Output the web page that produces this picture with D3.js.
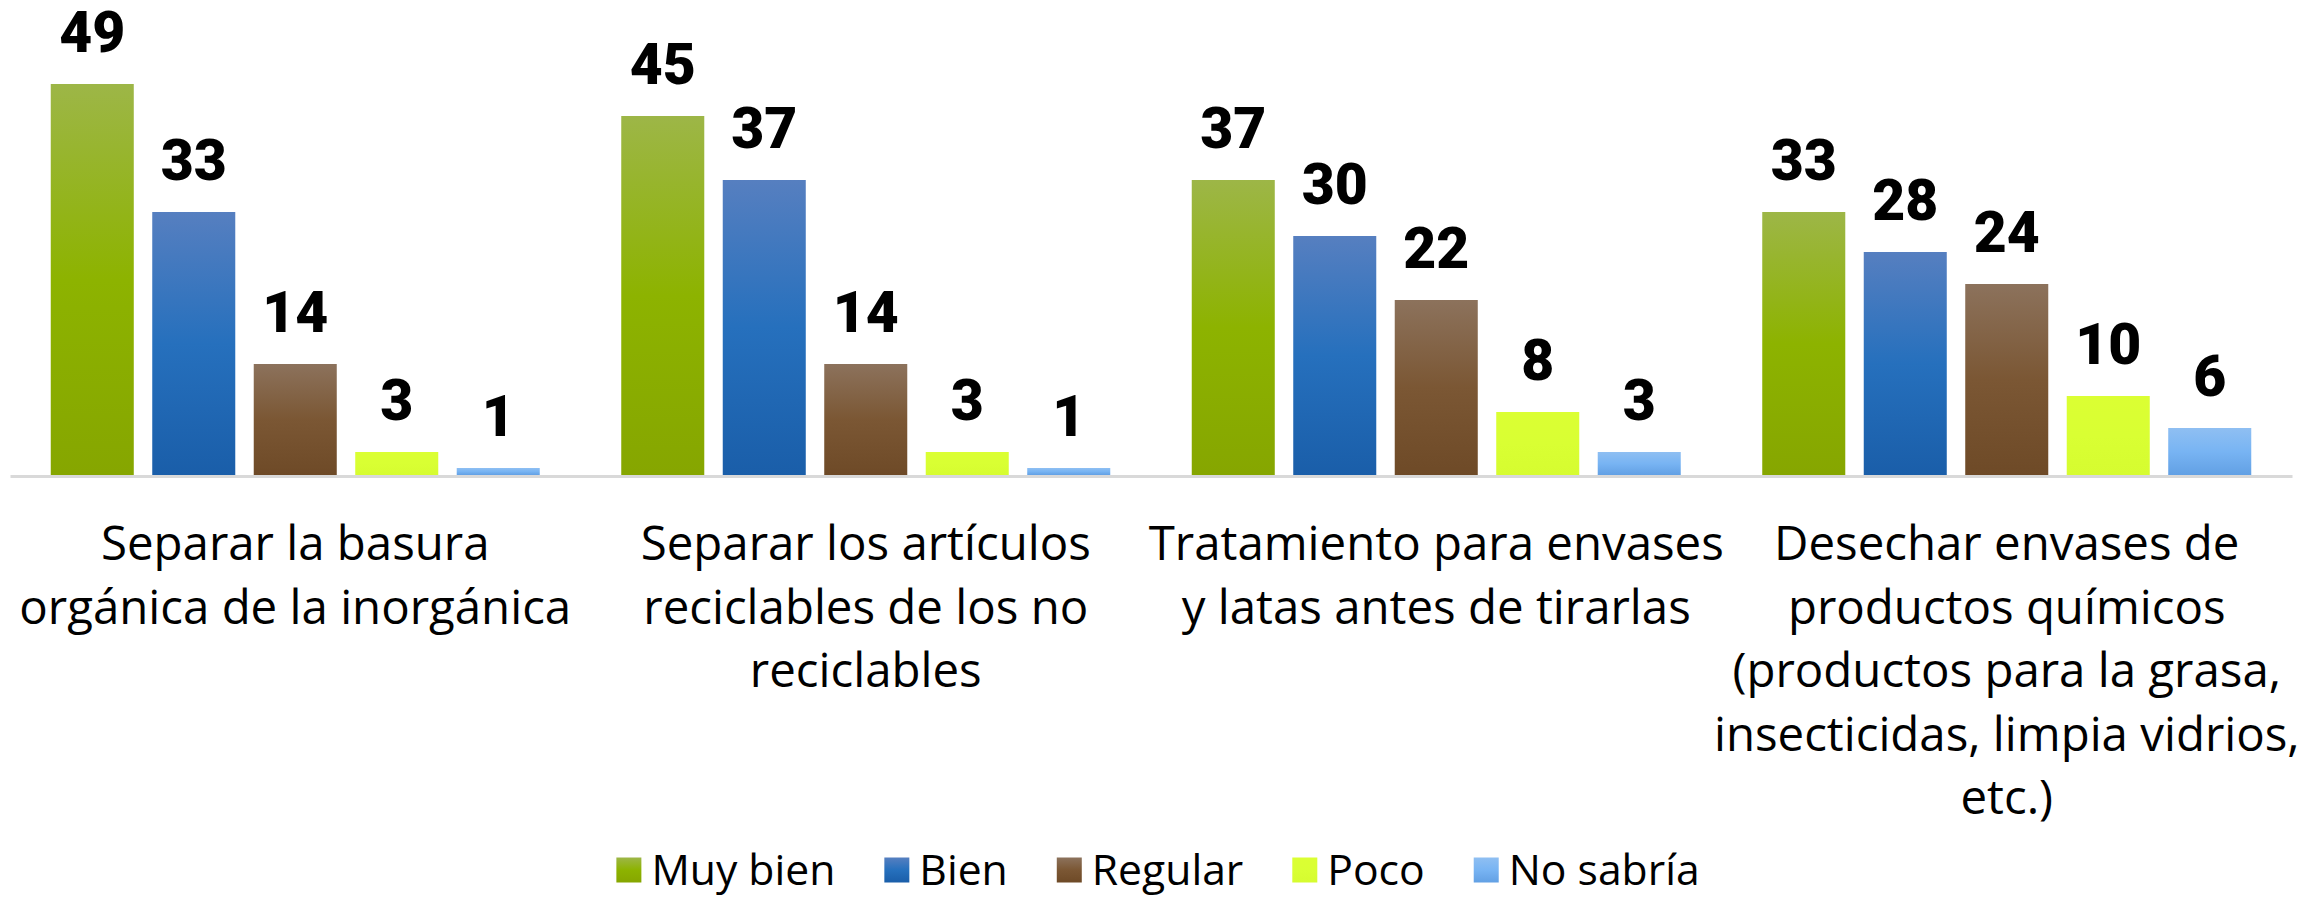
<!DOCTYPE html>
<html>
<head>
<meta charset="utf-8">
<script src="https://cdn.jsdelivr.net/npm/d3@7"></script>
<style>
  html, body { margin: 0; padding: 0; background: #fff; }
  svg { display: block; }
</style>
</head>
<body>
<div id="chart"></div>
<script>
const categories = ["c1", "c2", "c3", "c4"];
const categoryLines = [
    ["Separar la basura", "orgánica de la inorgánica"],
    ["Separar los artículos", "reciclables de los no", "reciclables"],
    ["Tratamiento para envases", "y latas antes de tirarlas"],
    ["Desechar envases de", "productos químicos", "(productos para la grasa,", "insecticidas, limpia vidrios,", "etc.)"]
];
const seriesNames = ["Muy bien", "Bien", "Regular", "Poco", "No sabría"];
const muyBien = [49, 45, 37, 33];
const bien = [33, 37, 30, 28];
const regular = [14, 14, 22, 24];
const poco = [3, 3, 8, 10];
const noSabria = [1, 1, 3, 6];
const seriesValues = [muyBien, bien, regular, poco, noSabria];

const width = 2318, height = 903;
const plot = {left: 10, right: 2292, top: 0, bottom: 476};

const svg = d3.select("#chart").append("svg")
    .attr("width", width)
    .attr("height", height)
    .attr("viewBox", `0 0 ${width} ${height}`);

// gradients like the office fills
const grads = [
    ["#9db647", "#8db300", "#86a600"],
    ["#567fc0", "#2670bd", "#1a5ea9"],
    ["#8c725c", "#7b5734", "#6e4a27"],
    ["#dbff33", "#d9ff33", "#d6fc30"],
    ["#8fbff2", "#78b4f3", "#62a0e4"]
];
const defs = svg.append("defs");
grads.forEach((g, i) => {
    const lg = defs.append("linearGradient")
        .attr("id", "g" + i)
        .attr("x1", 0).attr("y1", 0).attr("x2", 0).attr("y2", 1);
    lg.append("stop").attr("offset", "0%").attr("stop-color", g[0]);
    lg.append("stop").attr("offset", "50%").attr("stop-color", g[1]);
    lg.append("stop").attr("offset", "100%").attr("stop-color", g[2]);
});

const x0 = d3.scaleBand()
    .domain(categories)
    .range([plot.left, plot.right])
    .padding(0);

const groupPad = 40.75;
const x1 = d3.scaleBand()
    .domain(d3.range(seriesNames.length))
    .range([groupPad, x0.bandwidth() - groupPad])
    .paddingInner(0.182)
    .paddingOuter(0);

const y = d3.scaleLinear()
    .domain([0, 59.5])
    .range([plot.bottom, plot.top]);

// axis line
svg.append("g")
    .attr("transform", `translate(0,${plot.bottom})`)
    .call(d3.axisBottom(x0).tickSize(0).tickFormat(""))
    .call(g => g.select(".domain").attr("stroke", "#d9d9d9").attr("stroke-width", 3));

const groups = svg.selectAll(".grp")
    .data(categories)
    .join("g")
    .attr("class", "grp")
    .attr("transform", d => `translate(${x0(d)},0)`);

groups.selectAll("rect")
    .data((d, ci) => seriesValues.map((vals, si) => ({si, v: vals[ci]})))
    .join("rect")
    .attr("x", d => x1(d.si))
    .attr("width", x1.bandwidth())
    .attr("y", d => y(d.v))
    .attr("height", d => y(0) - y(d.v) - 1)
    .attr("fill", d => `url(#g${d.si})`);

groups.selectAll("text.val")
    .data((d, ci) => seriesValues.map((vals, si) => ({si, v: vals[ci]})))
    .join("text")
    .attr("class", "val")
    .attr("x", d => x1(d.si) + x1.bandwidth() / 2)
    .attr("y", d => y(d.v) - 32)
    .attr("text-anchor", "middle")
    .style("font-family", "Roboto, sans-serif")
    .style("font-weight", 900)
    .style("font-size", "57px")
    .style("fill", "#000")
    .text(d => d.v);

// category labels, font size fitted to the widest line
const labelFont = "'Open Sans', sans-serif";
const probe = svg.append("text")
    .style("font-family", labelFont)
    .style("font-size", "100px")
    .text("orgánica de la inorgánica");
const labelSize = 100 * 552 / probe.node().getComputedTextLength();
probe.remove();

const lineGap = 63.5;
groups.each(function(d, ci) {
    const t = d3.select(this).append("text")
        .attr("text-anchor", "middle")
        .style("font-family", labelFont)
        .style("font-size", labelSize + "px")
        .style("fill", "#000");
    t.selectAll("tspan")
        .data(categoryLines[ci])
        .join("tspan")
        .attr("x", x0.bandwidth() / 2)
        .attr("y", (l, i) => 560 + i * lineGap)
        .text(l => l);
});

// legend
const legendSize = labelSize * 0.9;
const legend = svg.append("g");
let lx = 0;
const sw = 25, swGap = 10, itemGap = 49;
seriesNames.forEach((name, i) => {
    const item = legend.append("g").attr("transform", `translate(${lx},0)`);
    item.append("rect")
        .attr("x", 0).attr("y", -sw / 2)
        .attr("width", sw).attr("height", sw)
        .attr("fill", `url(#g${i})`);
    const t = item.append("text")
        .attr("x", sw + swGap)
        .attr("y", 0)
        .attr("dy", "0.35em")
        .style("font-family", labelFont)
        .style("font-size", legendSize + "px")
        .style("fill", "#000")
        .text(name);
    lx += sw + swGap + t.node().getComputedTextLength() + itemGap;
});
const legendW = lx - itemGap;
legend.attr("transform", `translate(${1158 - legendW / 2},870)`);
</script>
</body>
</html>
